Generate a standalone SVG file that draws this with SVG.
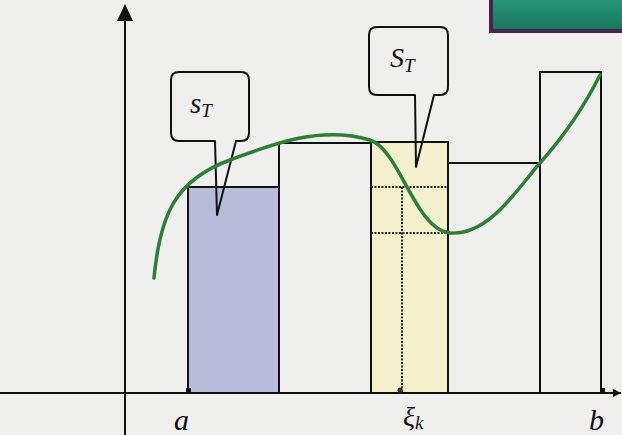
<svg xmlns="http://www.w3.org/2000/svg" width="622" height="435" viewBox="0 0 622 435">
<defs>
<style>
.ln{fill:none;stroke:#111;stroke-width:2}
.dash{fill:none;stroke:#222;stroke-width:2;stroke-dasharray:2 1.5}
.lbl{font-family:"Liberation Serif",serif;font-style:italic;fill:#111}
</style>
<linearGradient id="tealg" x1="0" y1="0" x2="0" y2="1">
<stop offset="0" stop-color="#2a9a7a"/><stop offset="1" stop-color="#17745c"/>
</linearGradient>
<marker id="ah" viewBox="0 0 10 10" refX="10" refY="5" markerWidth="8" markerHeight="8" markerUnits="userSpaceOnUse" orient="auto">
<path d="M0,0 L10,5 L0,10 Z" fill="#111"/>
</marker>
</defs>
<rect width="622" height="435" fill="#efefee"/>
<g id="banner">
<rect x="491" y="-4" width="135" height="35" fill="url(#tealg)" stroke="#4b2352" stroke-width="4"/>
</g>
<g id="axes">
<line x1="0" y1="393" x2="621" y2="393" class="ln" marker-end="url(#ah)"/>
<line x1="125" y1="435" x2="125" y2="20" class="ln"/>
<path d="M125,4 L133,21 L117,21 Z" fill="#111"/>
</g>
<g id="rect1">
<rect x="188" y="187" width="91" height="206" fill="#b7bdd9" stroke="#111" stroke-width="2"/>
<rect x="186" y="388" width="5" height="5" fill="#111"/>
</g>
<g id="rect2">
<rect x="279" y="143" width="92" height="250" fill="none" stroke="#111" stroke-width="2"/>
</g>
<g id="rect3">
<rect x="371" y="142" width="77" height="251" fill="#f3f1cc" stroke="#111" stroke-width="2"/>
<line x1="371" y1="187" x2="448" y2="187" class="dash"/>
<line x1="371" y1="233" x2="448" y2="233" class="dash"/>
<line x1="402" y1="187" x2="402" y2="393" class="dash"/>
<circle cx="400" cy="390" r="2.5" fill="#333"/>
</g>
<g id="rect4">
<rect x="448" y="163" width="92" height="230" fill="none" stroke="#111" stroke-width="2"/>
</g>
<g id="rect5">
<rect x="540" y="72" width="61" height="321" fill="none" stroke="#111" stroke-width="2"/>
<rect x="600" y="388" width="5" height="5" fill="#111"/>
</g>
<g id="callout-s">
<path d="M179,72 H241 Q249,72 249,80 V133 Q249,141 241,141 H236 L217,215 L215,141 H179 Q171,141 171,133 V80 Q171,72 179,72 Z" fill="none" stroke="#111" stroke-width="2" stroke-linejoin="round"/>
<text x="190" y="113" class="lbl" font-size="29">s<tspan font-size="19" dy="4">T</tspan></text>
</g>
<g id="callout-S">
<path d="M377,27 H440 Q448,27 448,35 V87 Q448,95 440,95 H434 L416,167 L415,95 H377 Q369,95 369,87 V35 Q369,27 377,27 Z" fill="none" stroke="#111" stroke-width="2" stroke-linejoin="round"/>
<text x="390" y="67" class="lbl" font-size="28">S<tspan font-size="19" dy="5">T</tspan></text>
</g>
<g id="curve">
<path d="M154,278 C160,215 175,180 230,160 C270,145 320,125 370,140 C400,150 415,230 450,233 C490,236 520,185 540,163 C565,135 585,105 600,75" fill="none" stroke="#2f7d3a" stroke-width="3.5" stroke-linecap="round"/>
</g>
<g id="labels">
<text x="174" y="430" class="lbl" font-size="30">a</text>
<text x="403" y="426" class="lbl" font-size="28">ξ<tspan font-size="19" dy="3">k</tspan></text>
<text x="589" y="430" class="lbl" font-size="30">b</text>
</g>
</svg>
